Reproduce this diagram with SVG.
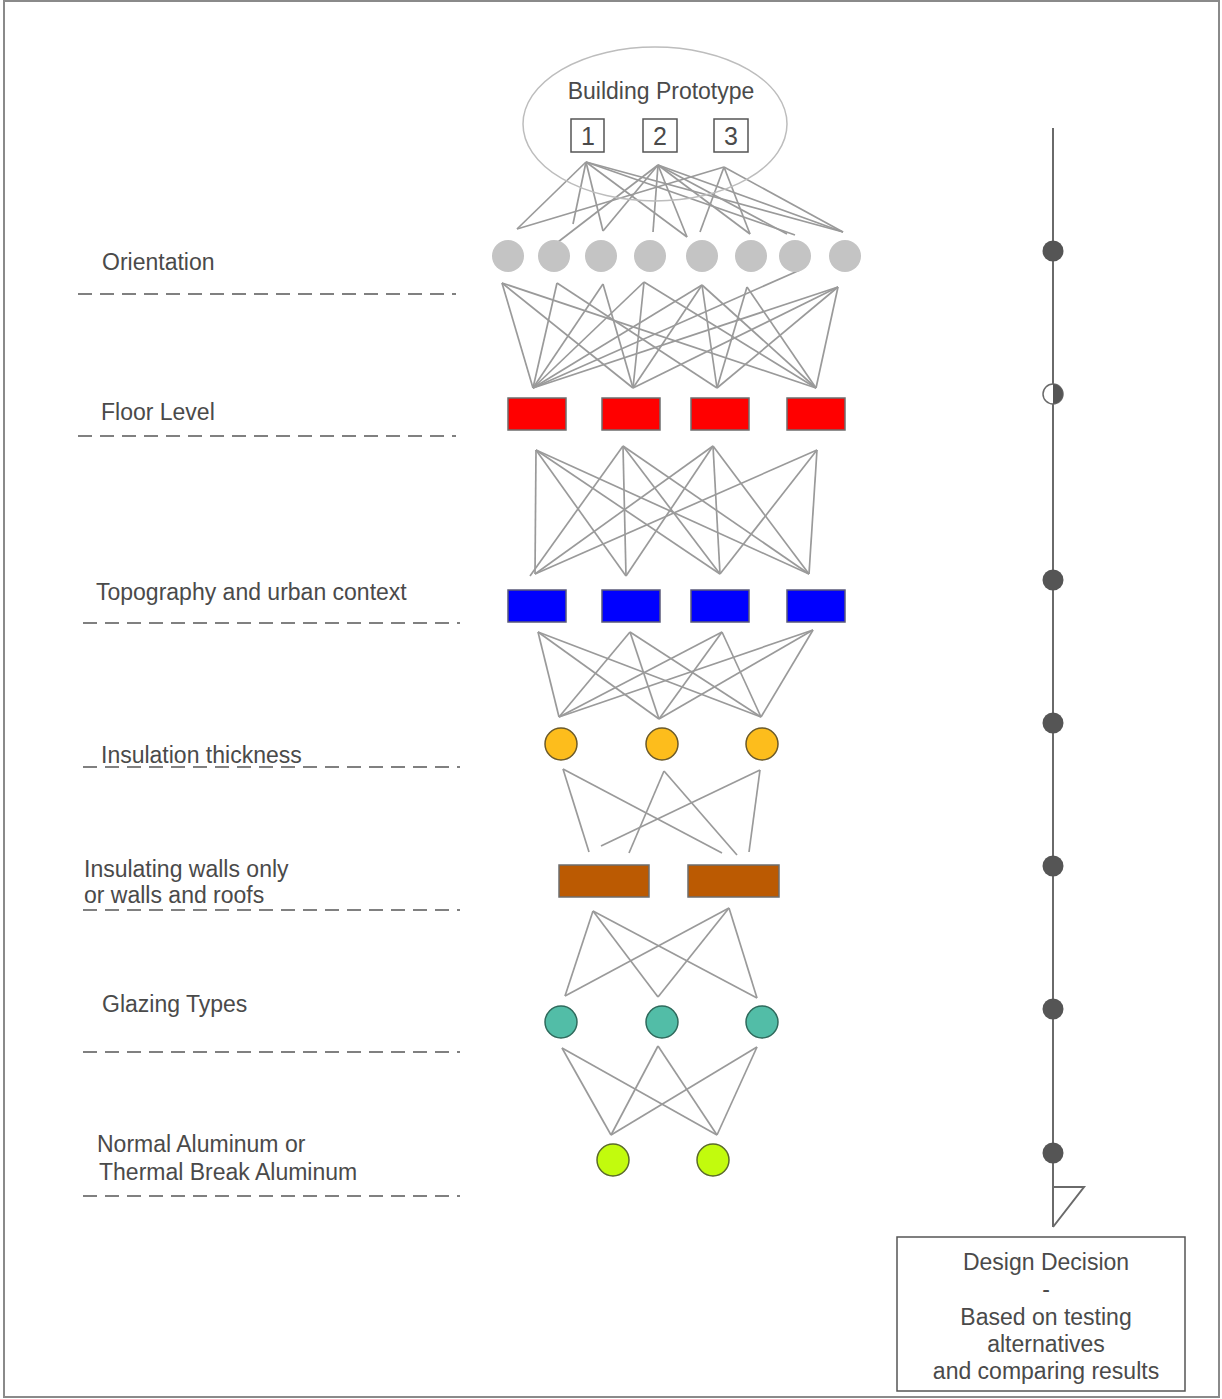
<svg xmlns="http://www.w3.org/2000/svg" width="1222" height="1399" viewBox="0 0 1222 1399">
<style>
.lbl{font-family:"Liberation Sans",Arial,sans-serif;font-size:23px;fill:#4a4a4a}
.dash{stroke:#808080;stroke-width:2;stroke-dasharray:14 8;fill:none}
.con line{stroke:#9a9a9a;stroke-width:1.7}
.ori{fill:#c4c4c4}
.red{fill:#ff0000;stroke:#6e6e6e;stroke-width:1.5}
.blue{fill:#0000ff;stroke:#5a5a7a;stroke-width:1.5}
.ins{fill:#fdbd1c;stroke:#6b5a2a;stroke-width:1.5}
.wall{fill:#bb5a02;stroke:#6e6e6e;stroke-width:1.5}
.gl{fill:#52bda7;stroke:#2f6a5c;stroke-width:1.5}
.al{fill:#c2fb0d;stroke:#5a6b2a;stroke-width:1.5}
.dot{fill:#555555}
.tl{stroke:#6a6a6a;stroke-width:2;fill:none}
</style>
<rect x="4" y="1" width="1215" height="1396" fill="#ffffff" stroke="#8a8a8a" stroke-width="2"/>

<g id="connectors" class="con">
<!-- prototype to orientation -->
<line x1="586" y1="162" x2="517" y2="229"/>
<line x1="586" y1="162" x2="573" y2="224"/>
<line x1="586" y1="162" x2="603" y2="231"/>
<line x1="586" y1="162" x2="687" y2="237"/>
<line x1="586" y1="162" x2="795" y2="235"/>
<line x1="586" y1="162" x2="843" y2="232"/>
<line x1="658" y1="165" x2="558" y2="242"/>
<line x1="658" y1="165" x2="603" y2="231"/>
<line x1="658" y1="165" x2="653" y2="232"/>
<line x1="658" y1="165" x2="687" y2="237"/>
<line x1="658" y1="165" x2="750" y2="234"/>
<line x1="658" y1="165" x2="787" y2="234"/>
<line x1="658" y1="165" x2="843" y2="232"/>
<line x1="724" y1="167" x2="517" y2="229"/>
<line x1="724" y1="167" x2="700" y2="232"/>
<line x1="724" y1="167" x2="750" y2="234"/>
<line x1="724" y1="167" x2="843" y2="232"/>
<!-- orientation to floor -->
<line x1="502" y1="283" x2="533" y2="388"/>
<line x1="502" y1="283" x2="633" y2="388"/>
<line x1="502" y1="283" x2="816" y2="388"/>
<line x1="557" y1="283" x2="533" y2="388"/>
<line x1="557" y1="283" x2="717" y2="388"/>
<line x1="603" y1="284" x2="533" y2="388"/>
<line x1="603" y1="284" x2="633" y2="388"/>
<line x1="644" y1="282" x2="533" y2="388"/>
<line x1="644" y1="282" x2="633" y2="388"/>
<line x1="644" y1="282" x2="816" y2="388"/>
<line x1="702" y1="285" x2="533" y2="388"/>
<line x1="702" y1="285" x2="633" y2="388"/>
<line x1="702" y1="285" x2="717" y2="388"/>
<line x1="702" y1="285" x2="816" y2="388"/>
<line x1="747" y1="287" x2="717" y2="388"/>
<line x1="747" y1="287" x2="816" y2="388"/>
<line x1="838" y1="287" x2="533" y2="388"/>
<line x1="838" y1="287" x2="633" y2="388"/>
<line x1="838" y1="287" x2="717" y2="388"/>
<line x1="838" y1="287" x2="816" y2="388"/>
<line x1="800" y1="270" x2="533" y2="388"/>
<!-- floor to topography -->
<line x1="536" y1="450" x2="535" y2="574"/>
<line x1="536" y1="450" x2="626" y2="576"/>
<line x1="536" y1="450" x2="720" y2="574"/>
<line x1="536" y1="450" x2="809" y2="574"/>
<line x1="623" y1="446" x2="530" y2="576"/>
<line x1="623" y1="446" x2="626" y2="576"/>
<line x1="623" y1="446" x2="720" y2="574"/>
<line x1="623" y1="446" x2="809" y2="574"/>
<line x1="713" y1="446" x2="535" y2="574"/>
<line x1="713" y1="446" x2="626" y2="576"/>
<line x1="713" y1="446" x2="720" y2="574"/>
<line x1="713" y1="446" x2="809" y2="574"/>
<line x1="817" y1="450" x2="535" y2="574"/>
<line x1="817" y1="450" x2="720" y2="574"/>
<line x1="817" y1="450" x2="809" y2="574"/>
<!-- topography to insulation -->
<line x1="538" y1="632" x2="559" y2="717"/>
<line x1="538" y1="632" x2="659" y2="719"/>
<line x1="538" y1="632" x2="761" y2="717"/>
<line x1="630" y1="632" x2="559" y2="717"/>
<line x1="630" y1="632" x2="659" y2="719"/>
<line x1="630" y1="632" x2="761" y2="717"/>
<line x1="722" y1="632" x2="559" y2="717"/>
<line x1="722" y1="632" x2="659" y2="719"/>
<line x1="722" y1="632" x2="761" y2="717"/>
<line x1="813" y1="630" x2="559" y2="717"/>
<line x1="813" y1="630" x2="659" y2="719"/>
<line x1="813" y1="630" x2="761" y2="717"/>
<!-- insulation to walls -->
<line x1="563" y1="769" x2="589" y2="852"/>
<line x1="563" y1="769" x2="722" y2="853"/>
<line x1="664" y1="771" x2="629" y2="853"/>
<line x1="664" y1="771" x2="737" y2="855"/>
<line x1="760" y1="770" x2="601" y2="846"/>
<line x1="760" y1="770" x2="749" y2="852"/>
<!-- walls to glazing -->
<line x1="593" y1="911" x2="565" y2="996"/>
<line x1="593" y1="911" x2="658" y2="997"/>
<line x1="593" y1="911" x2="757" y2="998"/>
<line x1="729" y1="908" x2="565" y2="996"/>
<line x1="729" y1="908" x2="658" y2="997"/>
<line x1="729" y1="908" x2="757" y2="998"/>
<!-- glazing to aluminum -->
<line x1="562" y1="1048" x2="611" y2="1135"/>
<line x1="562" y1="1048" x2="717" y2="1135"/>
<line x1="658" y1="1046" x2="611" y2="1135"/>
<line x1="658" y1="1046" x2="717" y2="1135"/>
<line x1="757" y1="1047" x2="611" y2="1135"/>
<line x1="757" y1="1047" x2="717" y2="1135"/>
</g>

<g id="prototype">
<ellipse cx="655" cy="124" rx="132" ry="77" fill="none" stroke="#bdbdbd" stroke-width="1.5"/>
<text x="661" y="99" text-anchor="middle" class="lbl">Building Prototype</text>
<rect x="571" y="119" width="33" height="33" fill="none" stroke="#555" stroke-width="1.5"/>
<rect x="643" y="119" width="34" height="33" fill="none" stroke="#555" stroke-width="1.5"/>
<rect x="714" y="119" width="34" height="33" fill="none" stroke="#555" stroke-width="1.5"/>
<text x="588" y="145" text-anchor="middle" class="lbl" style="font-size:25px">1</text>
<text x="660" y="145" text-anchor="middle" class="lbl" style="font-size:25px">2</text>
<text x="731" y="145" text-anchor="middle" class="lbl" style="font-size:25px">3</text>
</g>

<g id="orientation">
<text x="102" y="270" class="lbl">Orientation</text>
<line x1="78" y1="294" x2="456" y2="294" class="dash"/>
<circle cx="508" cy="256" r="16" class="ori"/>
<circle cx="554" cy="256" r="16" class="ori"/>
<circle cx="601" cy="256" r="16" class="ori"/>
<circle cx="650" cy="256" r="16" class="ori"/>
<circle cx="702" cy="256" r="16" class="ori"/>
<circle cx="751" cy="256" r="16" class="ori"/>
<circle cx="795" cy="256" r="16" class="ori"/>
<circle cx="845" cy="256" r="16" class="ori"/>
</g>

<g id="floor-level">
<text x="101" y="420" class="lbl">Floor Level</text>
<line x1="78" y1="436" x2="456" y2="436" class="dash"/>
<rect x="508" y="398" width="58" height="32" class="red"/>
<rect x="602" y="398" width="58" height="32" class="red"/>
<rect x="691" y="398" width="58" height="32" class="red"/>
<rect x="787" y="398" width="58" height="32" class="red"/>
</g>

<g id="topography">
<text x="96" y="600" class="lbl">Topography and urban context</text>
<line x1="83" y1="623" x2="460" y2="623" class="dash"/>
<rect x="508" y="590" width="58" height="32" class="blue"/>
<rect x="602" y="590" width="58" height="32" class="blue"/>
<rect x="691" y="590" width="58" height="32" class="blue"/>
<rect x="787" y="590" width="58" height="32" class="blue"/>
</g>

<g id="insulation-thickness">
<text x="101" y="763" class="lbl">Insulation thickness</text>
<line x1="83" y1="767" x2="460" y2="767" class="dash"/>
<circle cx="561" cy="744" r="16" class="ins"/>
<circle cx="662" cy="744" r="16" class="ins"/>
<circle cx="762" cy="744" r="16" class="ins"/>
</g>

<g id="insulating-walls">
<text x="84" y="877" class="lbl">Insulating walls only</text>
<text x="84" y="903" class="lbl">or walls and roofs</text>
<line x1="83" y1="910" x2="460" y2="910" class="dash"/>
<rect x="559" y="865" width="90" height="32" class="wall"/>
<rect x="688" y="865" width="91" height="32" class="wall"/>
</g>

<g id="glazing-types">
<text x="102" y="1012" class="lbl">Glazing Types</text>
<line x1="83" y1="1052" x2="460" y2="1052" class="dash"/>
<circle cx="561" cy="1022" r="16" class="gl"/>
<circle cx="662" cy="1022" r="16" class="gl"/>
<circle cx="762" cy="1022" r="16" class="gl"/>
</g>

<g id="aluminum">
<text x="97" y="1152" class="lbl">Normal Aluminum or</text>
<text x="99" y="1180" class="lbl">Thermal Break Aluminum</text>
<line x1="83" y1="1196" x2="460" y2="1196" class="dash"/>
<circle cx="613" cy="1160" r="16" class="al"/>
<circle cx="713" cy="1160" r="16" class="al"/>
</g>

<g id="timeline">
<line x1="1053" y1="128" x2="1053" y2="1227" class="tl"/>
<path d="M1053,1187 L1084,1187 L1053,1227" class="tl"/>
<circle cx="1053" cy="251" r="10.5" class="dot"/>
<circle cx="1053" cy="394" r="10" fill="#ffffff" stroke="#6a6a6a" stroke-width="1.5"/>
<path d="M1053,384 A10,10 0 0 1 1053,404 Z" class="dot"/>
<circle cx="1053" cy="580" r="10.5" class="dot"/>
<circle cx="1053" cy="723" r="10.5" class="dot"/>
<circle cx="1053" cy="866" r="10.5" class="dot"/>
<circle cx="1053" cy="1009" r="10.5" class="dot"/>
<circle cx="1053" cy="1153" r="10.5" class="dot"/>
</g>

<g id="design-decision">
<rect x="897" y="1237" width="288" height="154" fill="#ffffff" stroke="#555" stroke-width="1.5"/>
<text x="1046" y="1270" text-anchor="middle" class="lbl">Design Decision</text>
<text x="1046" y="1297" text-anchor="middle" class="lbl">-</text>
<text x="1046" y="1325" text-anchor="middle" class="lbl">Based on testing</text>
<text x="1046" y="1352" text-anchor="middle" class="lbl">alternatives</text>
<text x="1046" y="1379" text-anchor="middle" class="lbl">and comparing results</text>
</g>
</svg>
